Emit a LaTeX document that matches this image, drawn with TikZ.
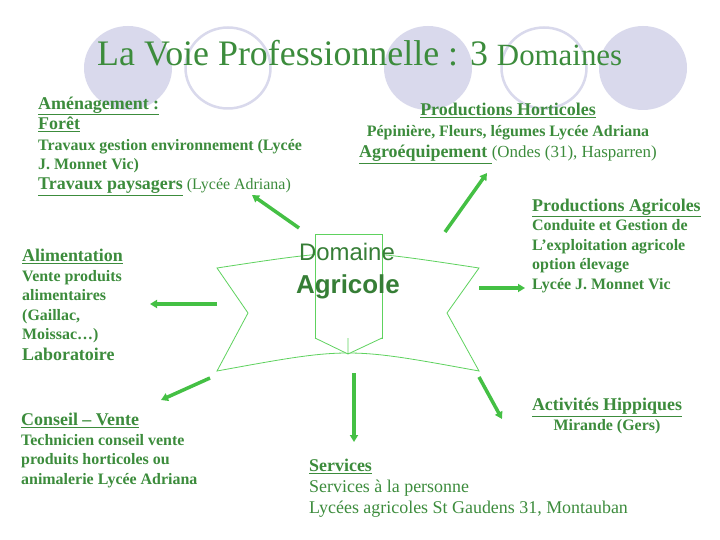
\documentclass[tikz,border=0pt]{standalone}
\usepackage{fontspec}
\setmainfont{Liberation Serif}
\newfontfamily\bannerfont{Liberation Sans}
\usetikzlibrary{arrows.meta,positioning}
\definecolor{txtgreen}{HTML}{3C8C3C}
\definecolor{arrowgreen}{HTML}{44C044}
\definecolor{scrollgreen}{HTML}{5ED25E}
\definecolor{lavender}{HTML}{D9D9EC}
\newcommand{\hd}[1]{{\fontsize{18}{20}\selectfont\underline{#1}}}

\begin{document}
\begin{tikzpicture}[x=1bp, y=-1bp,
    blob/.style={fill=lavender},
    ring/.style={draw=lavender, line width=2.5bp},
    txt/.style={text=txtgreen, align=left, inner sep=0pt, anchor=base west, font=\fontsize{16}{19.5}\selectfont\bfseries},
    link/.style={draw=arrowgreen, line width=3.5bp, -{Triangle[length=7bp,width=8bp]}},
    banner/.style={draw=scrollgreen, line width=0.8bp, fill=white}
  ]
    \useasboundingbox[fill=white] (0,0) rectangle (720,540);
    % circles behind the title
    \foreach \cx in {128,428,643}
      \fill[blob] (\cx,68) ellipse [x radius=44bp, y radius=42bp];
    \foreach \cx in {228,544}
      \draw[ring] (\cx,68) ellipse [x radius=42.5bp, y radius=40.5bp];
    \node[text=txtgreen, anchor=base west, inner sep=0pt] (title) at (97,66)
      {\fontsize{36}{40}\selectfont La Voie Professionnelle : 3 {\fontsize{31}{40}\selectfont Domaines}};

    % the banner
    \draw[banner] (217,268) .. controls (348,248) .. (479,268) -- (447,313) -- (479,371)
      .. controls (348,347) .. (217,371) -- (248,313) -- cycle;
    \draw[banner] (315,234) rectangle (382,338);
    \draw[banner] (315,338) -- (348,354) -- (382,338) (348,338) -- (348,354);
    \node[text=txtgreen!90!black, anchor=base, inner sep=0pt, font=\bannerfont\fontsize{24}{28}\selectfont] (dom) at (347,261) {Domaine};
    \node[text=txtgreen!90!black, anchor=base, inner sep=0pt, font=\bannerfont\bfseries\fontsize{26}{30}\selectfont] (agri) at (348,293) {Agricole};

    % the branches (placed by the baseline of their last line)
    \node[txt] (amenag) at (38,190) {\hd{Aménagement :}\\[1bp] \hd{Forêt}\\[1bp] Travaux gestion environnement (Lycée\\ J. Monnet Vic)\\[1bp] \hd{Travaux paysagers} {\mdseries (Lycée Adriana)}};
    \node[txt, align=center, anchor=base] (horti) at (508,158) {\hd{Productions Horticoles}\\[2bp] Pépinière, Fleurs, légumes Lycée Adriana\\[2bp] \hd{Agroéquipement\ }{\mdseries\fontsize{17}{20}\selectfont(Ondes (31), Hasparren)}};
    \node[txt] (prodagri) at (532,289) {\hd{Productions Agricoles}\\ Conduite et Gestion de\\ L'exploitation agricole\\ option élevage\\ Lycée J. Monnet Vic};
    \node[txt] (alim) at (22,360) {\hd{Alimentation}\\ Vente produits\\ alimentaires\\ (Gaillac,\\ Moissac…)\\[1bp] {\fontsize{18}{20}\selectfont Laboratoire}};
    \node[txt] (conseil) at (21,484) {\hd{Conseil – Vente}\\ Technicien conseil vente\\ produits horticoles ou\\ animalerie Lycée Adriana};
    \node[txt] (serv) at (309,513) {\hd{Services}\\[2bp] {\mdseries\fontsize{18}{21}\selectfont Services à la personne}\\[1bp] {\mdseries\fontsize{18}{21}\selectfont Lycées agricoles St Gaudens 31, Montauban}};
    \node[txt, align=center, anchor=base] (hipp) at (607,430) {\hd{Activités Hippiques}\\ Mirande (Gers)};

    % arrow ends
    \coordinate (a1) at (299,228); \coordinate (b1) at (252,195);
    \coordinate (a2) at (445,232); \coordinate (b2) at (487,173);
    \coordinate (a3) at (479,288); \coordinate (b3) at (525,288);
    \coordinate (a4) at (217,304); \coordinate (b4) at (150,304);
    \coordinate (a5) at (210,378); \coordinate (b5) at (161,400);
    \coordinate (a6) at (354,373); \coordinate (b6) at (354,442);
    \coordinate (a7) at (479,377); \coordinate (b7) at (502,419);
    \foreach \i in {1,...,7}
      \draw[link] (a\i) -- (b\i);
\end{tikzpicture}
\end{document}
